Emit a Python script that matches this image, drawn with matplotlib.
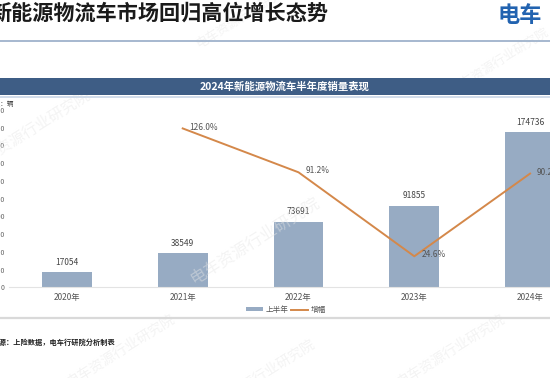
import matplotlib
matplotlib.use("Agg")
import matplotlib.pyplot as plt
from matplotlib.patches import Rectangle
from matplotlib.lines import Line2D
from matplotlib.patches import Patch

plt.rcParams['font.family'] = ['Noto Sans CJK SC', 'DejaVu Sans']

years = ['2020年', '2021年', '2022年', '2023年', '2024年']
sales = [17054, 38549, 73691, 91855, 174736]
growth_years_idx = [1, 2, 3, 4]
growth = [126.0, 91.2, 24.6, 90.2]
yticks = [0, 20000, 40000, 60000, 80000, 100000, 120000, 140000, 160000, 180000, 200000]

W, H = 550, 378
fig = plt.figure(figsize=(W / 100, H / 100), dpi=100)


def fx(x):
    return x / W


def fy(y):
    return 1 - y / H


# Header
fig.text(fx(-10), fy(13), '新能源物流车市场回归高位增长态势', fontsize=15.2,
         fontweight='bold', color='#1a1a1a', va='center', ha='left')
fig.text(fx(497), fy(15), '电车', fontsize=16, fontweight='bold',
         color='#2263b0', va='center', ha='left')
fig.add_artist(Line2D([0, 1], [fy(40.5), fy(40.5)], color='#9fb2cb', lw=1.3,
                      transform=fig.transFigure))

# Banner
fig.add_artist(Rectangle((0, fy(95)), 1, (95 - 78) / H, facecolor='#3e5d85',
                         edgecolor='none', transform=fig.transFigure))
fig.add_artist(Line2D([0, 1], [fy(96.5), fy(96.5)], color='#c9d6e6', lw=1.2,
                      transform=fig.transFigure))
fig.text(fx(285), fy(86.5), '2024年新能源物流车半年度销量表现', fontsize=7.5,
         fontweight='bold', color='white', va='center', ha='center')

fig.text(fx(-12), fy(104), '单位：辆', fontsize=4.8, color='#444444',
         va='center', ha='left')

# Main axes
left_px, right_px = 9, 588
top_px, base_px = 110, 287.3
ax = fig.add_axes([fx(left_px), fy(base_px), (right_px - left_px) / W,
                   (base_px - top_px) / H])
x = list(range(len(years)))
bars = ax.bar(x, sales, width=0.43, color='#97abc3', zorder=2)
ax.set_xlim(-0.5, 4.5)
ax.set_ylim(0, 200000)
ax.set_yticks(yticks)
ax.set_yticklabels([str(v) for v in yticks], fontsize=5, color='#666666')
ax.set_xticks(x)
ax.set_xticklabels(years, fontsize=6, color='#555555')
ax.tick_params(axis='both', length=0)
ax.tick_params(axis='y', pad=3)
ax.tick_params(axis='x', pad=4)
for s in ['top', 'right', 'left']:
    ax.spines[s].set_visible(False)
ax.spines['bottom'].set_color('#e3e3e3')
ax.spines['bottom'].set_linewidth(0.8)
ax.patch.set_alpha(0)

for xi, v in zip(x, sales):
    ax.annotate(str(v), (xi, v), xytext=(0, 4), textcoords='offset points',
                ha='center', va='bottom', fontsize=6, color='#444444')

ax2 = ax.twinx()
ax2.set_ylim(0, 140.6)
ax2.plot(growth_years_idx, growth, color='#d4884a', lw=1.4, zorder=3)
ax2.axis('off')
for xi, g in zip(growth_years_idx, growth):
    ax2.annotate(f'{g:.1f}%', (xi, g), xytext=(5, 1), textcoords='offset points',
                 ha='left', va='center', fontsize=6, color='#555555')

# Legend
handles = [Patch(facecolor='#97abc3', edgecolor='none'),
           Line2D([0], [0], color='#d4884a', lw=1.4)]
fig.legend(handles, ['上半年', '增幅'], loc='center', bbox_to_anchor=(fx(286), fy(310)),
           ncol=2, frameon=False, fontsize=5.5, handlelength=2.2, handleheight=0.5,
           columnspacing=0.4, handletextpad=0.3, labelcolor='#555555')

fig.add_artist(Line2D([0, 1], [fy(318), fy(318)], color='#d9d9d9', lw=1.6,
                      transform=fig.transFigure))

fig.text(fx(-22), fy(342), '数据来源：上险数据，电车行研院分析制表', fontsize=5.2,
         fontweight='bold', color='#222222', va='center', ha='left')

# Watermarks
wm = '电车资源行业研究院'
for (wx, wy, fs) in [(255, 240, 12), (245, 15, 9), (500, 60, 9), (30, 130, 11),
                     (450, 350, 10), (120, 350, 10), (260, 375, 10)]:
    fig.text(fx(wx), fy(wy), wm, fontsize=fs, color='#e6e6e6', alpha=0.45,
             rotation=32, ha='center', va='center', zorder=0)

fig.savefig('out.png', dpi=100)
